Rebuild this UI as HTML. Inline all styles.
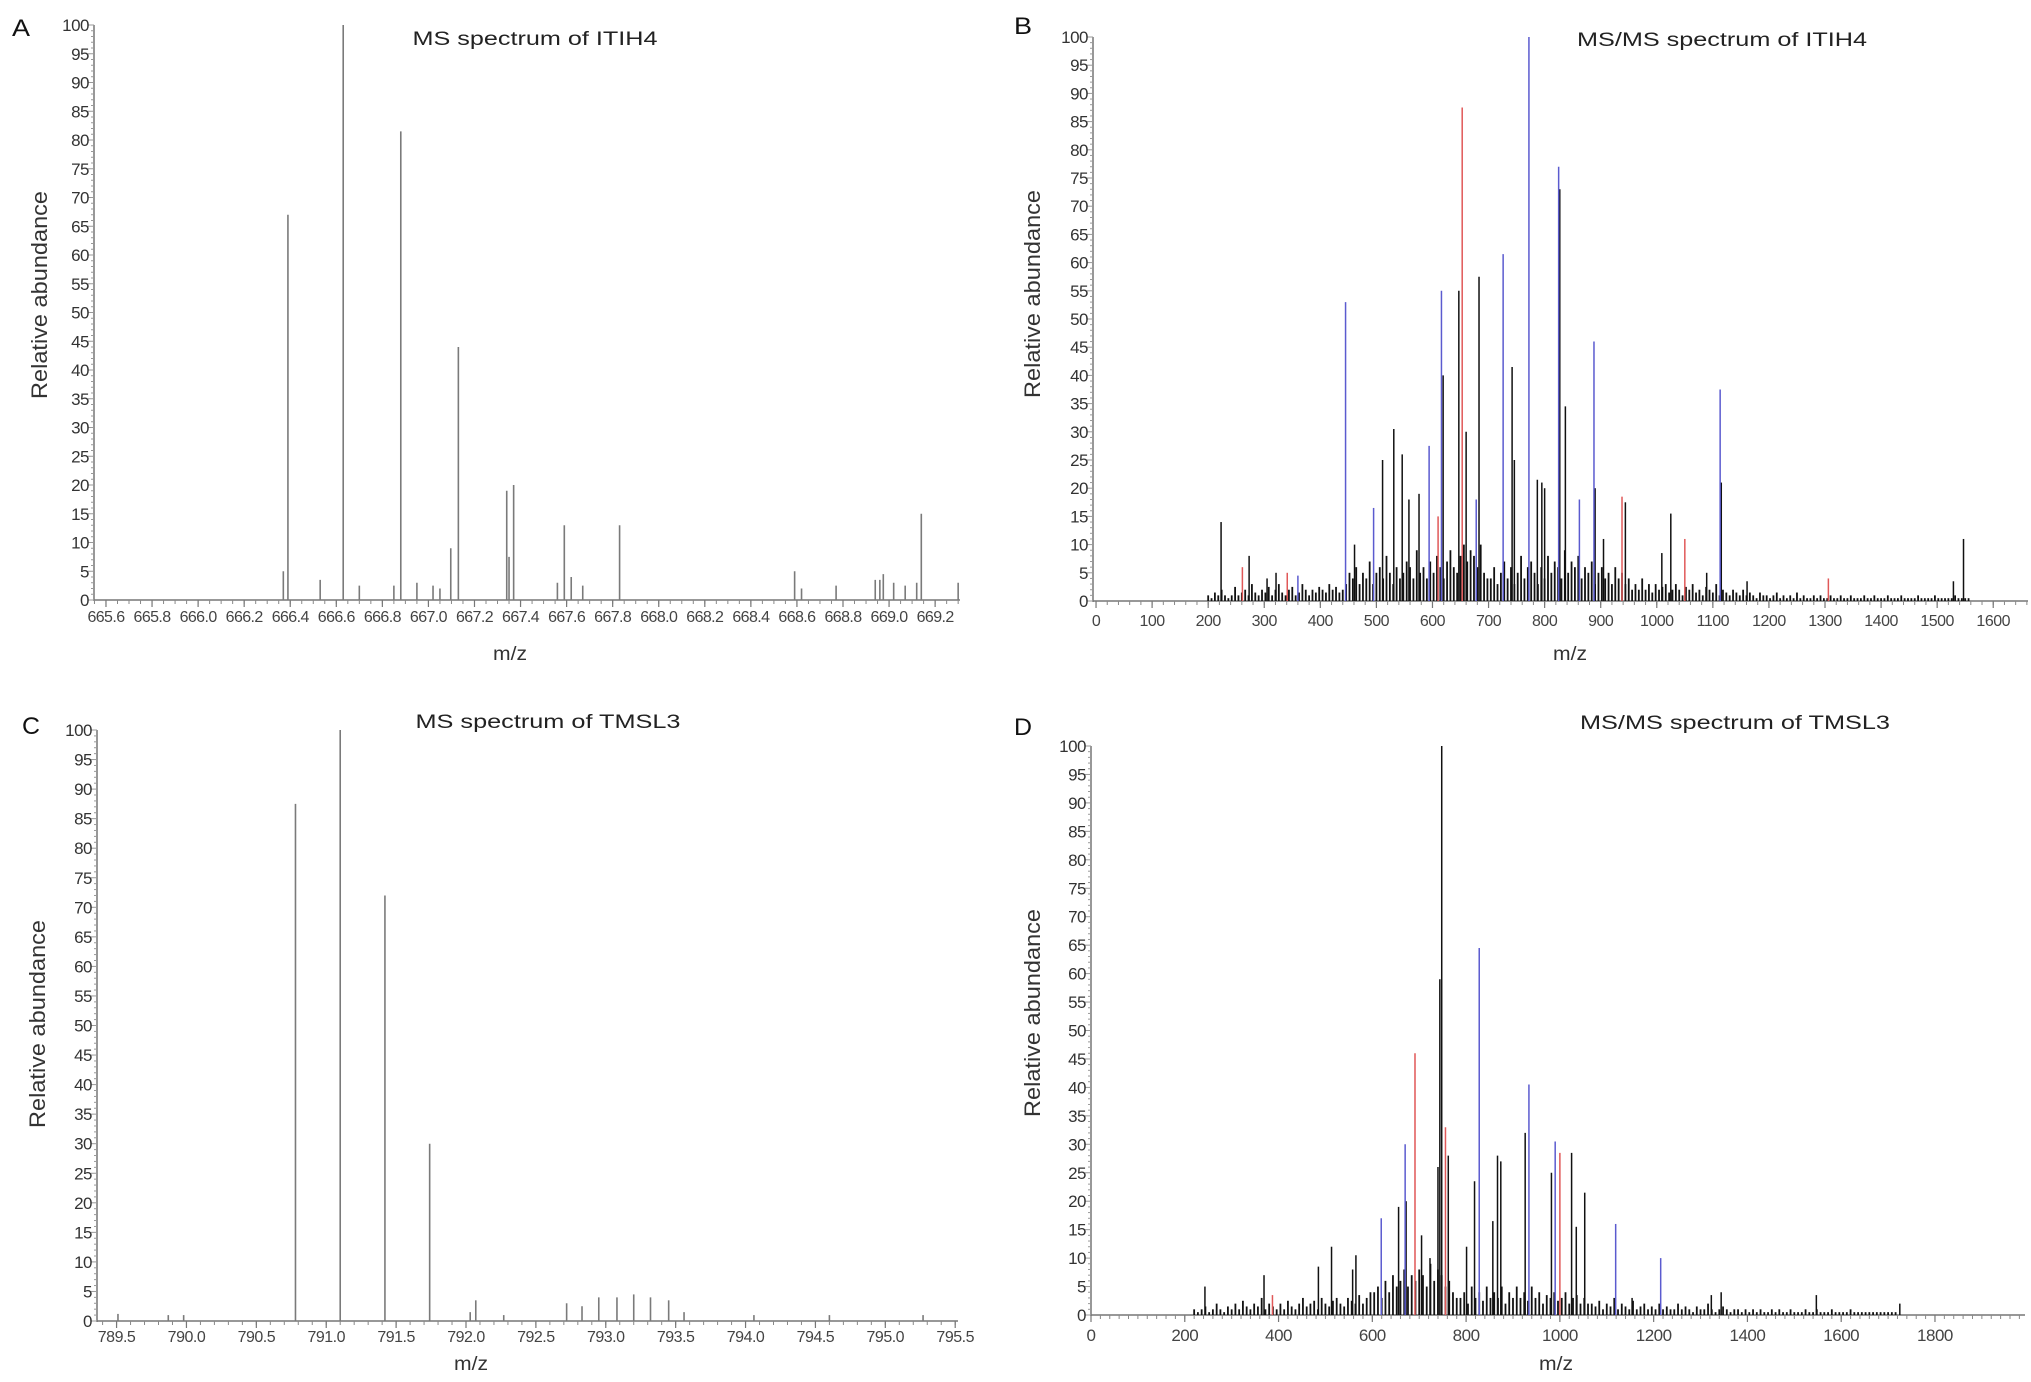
<!DOCTYPE html>
<html><head><meta charset="utf-8">
<style>
html,body{margin:0;padding:0;background:#fff;overflow:hidden;}
svg{display:block;font-family:"Liberation Sans",Arial,sans-serif;}
</style></head>
<body>
<svg id="fig" width="2031" height="1382" viewBox="0 0 2031 1382" xmlns="http://www.w3.org/2000/svg"></svg>
<script>
// Panel A: MS spectrum of ITIH4
const aMz=[666.37,666.39,666.53,666.63,666.70,666.85,666.88,666.95,667.02,667.05,667.097,667.13,667.34,667.35,667.37,667.56,667.59,667.62,667.67,667.83,668.59,668.62,668.77,668.94,668.96,668.975,669.02,669.07,669.12,669.14,669.30];
const aInt=[5,67,3.5,100,2.5,2.5,81.5,3,2.5,2,9,44,19,7.5,20,3,13,4,2.5,13,5,2,2.5,3.5,3.5,4.5,3,2.5,3,15,3];
const aTicks=[665.6,665.8,666.0,666.2,666.4,666.6,666.8,667.0,667.2,667.4,667.6,667.8,668.0,668.2,668.4,668.6,668.8,669.0,669.2];
// Panel C: MS spectrum of TMSL3
const cMz=[789.51,789.87,789.98,790.78,791.10,791.42,791.74,792.03,792.07,792.27,792.72,792.83,792.95,793.08,793.20,793.32,793.45,793.56,794.06,794.60,795.27];
const cInt=[1.2,1,1,87.5,100,72,30,1.5,3.5,1,3,2.5,4,4,4.5,4,3.5,1.5,1,1,1];
const cTicks=[789.5,790.0,790.5,791.0,791.5,792.0,792.5,793.0,793.5,794.0,794.5,795.0,795.5];
// Panel B: MS/MS spectrum of ITIH4
const bMz=[223,261,273,305,321,341,360,445,461,495,511,531,546,558,576,594,610,616,619,647,653,660,678,683,726,742,746,772,787,795,800,825,827,837,862,888,890,905,938,944,1009,1025,1050,1089,1113,1115,1161,1306,1529,1547];
const bInt=[14,6,8,4,5,5,4.5,53,10,16.5,25,30.5,26,18,19,27.5,15,55,40,55,87.5,30,18,57.5,61.5,41.5,25,100,21.5,21,20,77,73,34.5,18,46,20,11,18.5,17.5,8.5,15.5,11,5,37.5,21,3.5,4,3.5,11];
const bCol=['k','r','k','k','k','r','b','b','k','b','k','k','k','k','k','b','r','b','k','k','r','k','b','k','b','k','k','b','k','k','k','b','k','k','b','b','k','k','r','k','k','k','r','k','b','k','k','r','k','k'];
const bNoiseStart=200, bNoiseStep=6;
const bNoise=[1,0.5,1.5,1,2,1,0.5,1,2.5,1,1.5,2,1,3,1.5,1,2,1.5,2.5,1,2,3,1.5,1,2,2.5,1,1.5,3,2,1,2,1.5,2.5,2,1.5,3,2,2.5,1.5,2,
3,5,4,6,3,5,4,7,3,5,6,4,8,5,3,6,4,5,7,6,4,9,5,6,4,7,5,8,6,4,7,9,6,5,8,10,7,9,8,6,10,5,4,
4,6,3,5,7,4,6,3,5,8,4,6,7,5,3,6,4,8,5,7,6,4,9,5,7,6,8,4,6,5,7,3,5,6,4,5,3,6,4,5,3,4,2,
3,2,4,2,3,1.5,3,2,2.5,3,1.5,2,3,2,1,2.5,2,3,1.5,2,1,2.5,2,1.5,3,1,2,1.5,1,2,1.5,1,2,1,1.5,1,0.5,1.5,1,1,0.5,1,1.5,0.5,
1,0.5,1,0.5,1.5,0.5,1,0.5,0.5,1,0.5,1,0.5,0.5,1,0.5,0.5,1,0.5,0.5,1,0.5,0.5,0.5,1,0.5,0.5,1,0.5,0.5,0.5,1,0.5,0.5,0.5,1,0.5,0.5,0.5,0.5,1,0.5,0.5,0.5,0.5,1,0.5,0.5,0.5,0.5,0.5,1,0.5,0.5,0.5,0.5];
const bTicks=[0,100,200,300,400,500,600,700,800,900,1000,1100,1200,1300,1400,1500,1600];
// Panel D: MS/MS spectrum of TMSL3
const dMz=[243,369,387,485,513,558,565,619,656,670,672,691,705,723,740,744,748,756,762,801,818,828,857,867,874,926,934,982,990,1000,1025,1035,1053,1119,1154,1215,1323,1344,1547,1725];
const dInt=[5,7,3.5,8.5,12,8,10.5,17,19,30,20,46,14,10,26,59,100,33,28,12,23.5,64.5,16.5,28,27,32,40.5,25,30.5,28.5,28.5,15.5,21.5,16,3,10,3.5,4,3.5,2];
const dCol=['k','k','r','k','k','k','k','b','k','b','k','r','k','k','k','k','k','r','k','k','k','b','k','k','k','k','b','k','b','r','k','k','k','b','k','b','k','k','k','k'];
const dNoiseStart=220, dNoiseStep=8;
const dNoise=[1,0.5,1,1.5,0.5,1,2,1,0.5,1.5,1,2,1,2.5,1.5,1,2,1.5,3,1,2,
1.5,1,2,1,2.5,1.5,1,2,3,1.5,2,2.5,1,3,2,1.5,2.5,3,2,1.5,3,2.5,2,3.5,2,3,4,
4,5,3,6,4,7,5,6,8,5,7,6,8,7,5,9,6,8,7,5,6,4,3,
3,4,2,5,3,4,2.5,5,3,4,3,5,2,4,3,5,3,4,2.5,5,3,4,2,3.5,3,4,2.5,3,4,2,3,3.5,2,3,2,
2,1.5,2.5,1,2,1.5,3,1,2,1.5,1,2.5,1,1.5,2,1,1.5,1,2,1,1.5,1,1,2,1,1.5,1,0.5,1.5,1,1,2,1,0.5,1,1.5,1,0.5,1,1,0.5,1,
0.5,1,0.5,1,0.5,0.5,1,0.5,1,0.5,0.5,1,0.5,0.5,0.5,1,0.5,0.5,1,0.5,0.5,0.5,1,0.5,0.5,0.5,0.5,1,0.5,0.5,0.5,0.5,0.5,0.5,0.5,0.5,0.5,0.5,0.5,0.5];
const dTicks=[0,200,400,600,800,1000,1200,1400,1600,1800];
const yTicks=[0,5,10,15,20,25,30,35,40,45,50,55,60,65,70,75,80,85,90,95,100];

const NS='http://www.w3.org/2000/svg';
const svg=document.getElementById('fig');
const COL={k:'#111',b:'#5b5bcf',r:'#e05858',g:'#7a7a7a'};
function mk(tag,attrs,parent){const e=document.createElementNS(NS,tag);for(const k in attrs)e.setAttribute(k,attrs[k]);(parent||svg).appendChild(e);return e;}

function panel(c){
  const g=mk('g',{});
  
  
  const sx=v=>c.ax+(v-c.xmin)/(c.xmax-c.xmin)*(c.ax1-c.ax);
  const sy=v=>c.y0+(c.y100-c.y0)*v/100;
  const L=mk('text',{x:c.lx,y:c.ly,'font-size':24,fill:'#111',textLength:18,lengthAdjust:'spacingAndGlyphs'},g);L.textContent=c.letter;
  
  
  const T=mk('text',{x:c.tx,y:c.ty,'font-size':19,'text-anchor':'middle',fill:'#222',textLength:c.tw,lengthAdjust:'spacingAndGlyphs'},g);T.textContent=c.title;
  
  
  const YL=mk('text',{x:0,y:0,'font-size':22,'text-anchor':'middle',fill:'#333',transform:`translate(${c.ylx},${c.yly}) rotate(-90)`,textLength:208,lengthAdjust:'spacingAndGlyphs'},g);YL.textContent='Relative abundance';
  
  
  const XL=mk('text',{x:c.xlx,y:c.xly,'font-size':19,'text-anchor':'middle',fill:'#333',textLength:34,lengthAdjust:'spacingAndGlyphs'},g);XL.textContent='m/z';
  
  
  const ya=mk('line',{x1:c.ax,y1:c.y0+1,x2:c.ax,y2:c.y100,stroke:'#777','stroke-width':1.5},g);
  
  
  const xa=mk('line',{x1:c.ax,y1:c.y0,x2:c.ax1,y2:c.y0,stroke:'#777','stroke-width':1.5},g);
  
  
  for(let v=0;v<=100;v++){mk('line',{x1:c.ax-(v%5?3:6),y1:sy(v),x2:c.ax,y2:sy(v),stroke:'#999','stroke-width':1},g);}
  yTicks.forEach(v=>{const t=mk('text',{x:c.ax-5,y:sy(v)+6,'font-size':17,'text-anchor':'end','letter-spacing':-0.5,fill:'#333'},g);t.textContent=v;
    
    });
  for(let v=Math.ceil(c.xmin/c.minor)*c.minor;v<=c.xmax;v+=c.minor){mk('line',{x1:sx(v),y1:c.y0,x2:sx(v),y2:c.y0+4,stroke:'#888','stroke-width':1},g);}
  c.ticks.forEach(v=>{mk('line',{x1:sx(v),y1:c.y0,x2:sx(v),y2:c.y0+7,stroke:'#777','stroke-width':1.2},g);
    const t=mk('text',{x:sx(v),y:c.tly,'font-size':c.tfs,'text-anchor':'middle','letter-spacing':c.tls,fill:'#444'},g);t.textContent=c.fmt(v);
    
    });
  if(c.noise){c.noise.forEach((h,i)=>{const m=c.nStart+i*c.nStep;
    const l=mk('line',{x1:sx(m),y1:c.y0,x2:sx(m),y2:sy(h),stroke:'#111','stroke-width':1.8},g);
    
    });}
  const order=c.mz.map((_,i)=>i).sort((a,b)=>((c.col?c.col[a]:'g')==='k'?0:1)-((c.col?c.col[b]:'g')==='k'?0:1));
  order.forEach(i=>{const col=c.col?c.col[i]:'g';
    const l=mk('line',{x1:sx(c.mz[i]),y1:c.y0,x2:sx(c.mz[i]),y2:sy(c.int[i]),stroke:COL[col],'stroke-width':col==='g'?1.6:1.5},g);
    
    });
}

panel({name:'panel-a',letter:'A',lx:12,ly:36,title:'MS spectrum of ITIH4',tw:245,tx:535,ty:45,ylx:47,yly:295,xlx:510,xly:660,
  ax:94,ax1:960,xmin:665.548,xmax:669.308,y0:600,y100:25,mz:aMz,int:aInt,ticks:aTicks,minor:0.05,tly:622,tfs:16,tls:-0.6,fmt:v=>v.toFixed(1)});
panel({name:'panel-b',letter:'B',lx:1014,ly:34,title:'MS/MS spectrum of ITIH4',tw:290,tx:1722,ty:46,ylx:1040,yly:294,xlx:1570,xly:660,
  ax:1093,ax1:2028,xmin:-5.4,xmax:1662,y0:601,y100:37,mz:bMz,int:bInt,col:bCol,noise:bNoise,nStart:bNoiseStart,nStep:bNoiseStep,ticks:bTicks,minor:20,tly:626,tfs:16,tls:-0.5,fmt:v=>v});
panel({name:'panel-c',letter:'C',lx:22,ly:734,title:'MS spectrum of TMSL3',tw:265,tx:548,ty:728,ylx:45,yly:1024,xlx:471,xly:1370,
  ax:97,ax1:958,xmin:789.36,xmax:795.52,y0:1321,y100:730,mz:cMz,int:cInt,ticks:cTicks,minor:0.1,tly:1342,tfs:16,tls:-0.5,fmt:v=>v.toFixed(1)});
panel({name:'panel-d',letter:'D',lx:1014,ly:735,title:'MS/MS spectrum of TMSL3',tw:310,tx:1735,ty:729,ylx:1040,yly:1013,xlx:1556,xly:1370,
  ax:1091,ax1:2025,xmin:0,xmax:1992,y0:1315,y100:746,mz:dMz,int:dInt,col:dCol,noise:dNoise,nStart:dNoiseStart,nStep:dNoiseStep,ticks:dTicks,minor:20,tly:1341,tfs:17,tls:-0.5,fmt:v=>v});
</script>
</body></html>
